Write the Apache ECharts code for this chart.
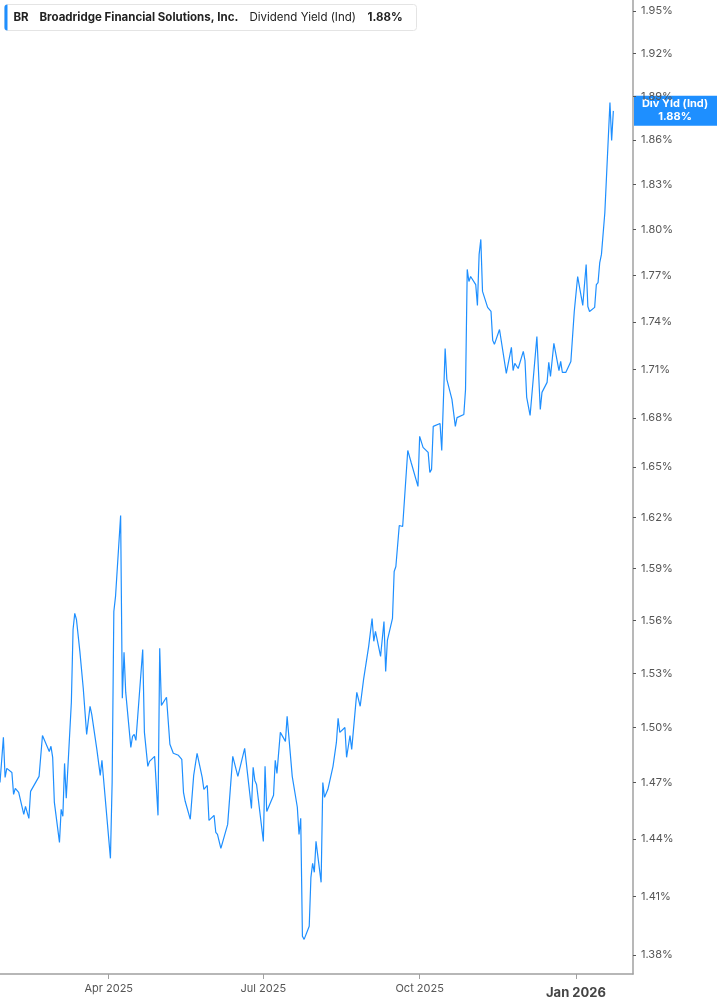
<!DOCTYPE html>
<html>
<head>
<meta charset="utf-8">
<script src="https://cdn.jsdelivr.net/npm/echarts@6/dist/echarts.min.js"></script>
<style>
html,body{margin:0;padding:0;background:#fff;}
#chart{width:717px;height:1005px;}
</style>
</head>
<body>
<div id="chart"></div>
<script>
const dates = [
'2025-01-27','2025-01-29','2025-01-30','2025-01-31','2025-02-03','2025-02-04','2025-02-05','2025-02-07','2025-02-10','2025-02-11',
'2025-02-13','2025-02-14','2025-02-19','2025-02-21','2025-02-25','2025-02-26','2025-02-27','2025-02-28','2025-03-03','2025-03-04',
'2025-03-05','2025-03-06','2025-03-07','2025-03-10','2025-03-11','2025-03-12','2025-03-13','2025-03-15','2025-03-17','2025-03-18',
'2025-03-19','2025-03-21','2025-03-22','2025-03-25','2025-03-27','2025-03-28','2025-04-02','2025-04-03','2025-04-04','2025-04-05',
'2025-04-08','2025-04-09','2025-04-10','2025-04-11','2025-04-14','2025-04-15','2025-04-16','2025-04-17','2025-04-21','2025-04-22',
'2025-04-24','2025-04-25','2025-04-28','2025-04-30','2025-05-01','2025-05-02','2025-05-05','2025-05-07','2025-05-08','2025-05-09',
'2025-05-12','2025-05-14','2025-05-15','2025-05-16','2025-05-19','2025-05-20','2025-05-21','2025-05-23','2025-05-26','2025-05-27',
'2025-05-29','2025-05-30','2025-06-02','2025-06-03','2025-06-04','2025-06-06','2025-06-10','2025-06-13','2025-06-16','2025-06-20',
'2025-06-24','2025-06-25','2025-06-26','2025-06-27','2025-07-01','2025-07-02','2025-07-03','2025-07-07','2025-07-08','2025-07-09',
'2025-07-10','2025-07-11','2025-07-14','2025-07-15','2025-07-18','2025-07-21','2025-07-22','2025-07-23','2025-07-24','2025-07-25',
'2025-07-28','2025-07-29','2025-07-30','2025-07-31','2025-08-01','2025-08-04','2025-08-05','2025-08-06','2025-08-08','2025-08-11',
'2025-08-13','2025-08-14','2025-08-15','2025-08-18','2025-08-19','2025-08-21','2025-08-22','2025-08-25','2025-08-27','2025-08-29',
'2025-09-01','2025-09-03','2025-09-04','2025-09-05','2025-09-08','2025-09-10','2025-09-11','2025-09-12','2025-09-15','2025-09-16',
'2025-09-17','2025-09-19','2025-09-21','2025-09-24','2025-09-26','2025-09-30','2025-10-01','2025-10-03','2025-10-06','2025-10-07',
'2025-10-08','2025-10-09','2025-10-13','2025-10-14','2025-10-16','2025-10-17','2025-10-20','2025-10-22','2025-10-23','2025-10-27',
'2025-10-28','2025-10-29','2025-10-30','2025-10-31','2025-11-03','2025-11-04','2025-11-05','2025-11-06','2025-11-07','2025-11-10',
'2025-11-11','2025-11-12','2025-11-13','2025-11-14','2025-11-17','2025-11-18','2025-11-21','2025-11-24','2025-11-25','2025-11-26',
'2025-11-28','2025-12-01','2025-12-02','2025-12-03','2025-12-05','2025-12-09','2025-12-11','2025-12-12','2025-12-15','2025-12-16',
'2025-12-17','2025-12-19','2025-12-22','2025-12-23','2025-12-24','2025-12-26','2025-12-29','2025-12-31','2026-01-02','2026-01-05',
'2026-01-07','2026-01-08','2026-01-09','2026-01-12','2026-01-13','2026-01-14','2026-01-15','2026-01-16','2026-01-18','2026-01-21',
'2026-01-22','2026-01-23'
];
const yieldValues = [
1.470,1.4945,1.4727,1.4776,1.4754,1.4636,1.4668,1.4647,1.4529,1.4572,
1.4508,1.4652,1.4733,1.4955,1.4868,1.4896,1.4836,1.4593,1.4381,1.4556,
1.4519,1.4803,1.4615,1.5138,1.5547,1.5639,1.5604,1.5423,1.5216,1.5227,
1.4961,1.5116,1.5071,1.4879,1.4738,1.4820,1.4297,1.4700,1.5650,1.5737,
1.6210,1.5160,1.5418,1.5193,1.4890,1.4950,1.4961,1.4928,1.5434,1.4972,
1.4787,1.4814,1.4841,1.4524,1.5440,1.5121,1.5166,1.4907,1.4917,1.4858,
1.4847,1.4825,1.4647,1.4599,1.4503,1.4508,1.4738,1.4858,1.4727,1.4663,
1.4684,1.4497,1.4524,1.4434,1.4423,1.4349,1.4476,1.4841,1.4733,1.4885,
1.4561,1.4782,1.4711,1.4689,1.4386,1.4787,1.4545,1.4631,1.4820,1.4749,
1.4754,1.4972,1.4923,1.5060,1.4733,1.4567,1.4423,1.4508,1.3895,1.3879,
1.3946,1.4198,1.4271,1.4224,1.4386,1.4172,1.4700,1.4620,1.4663,1.4787,
1.4917,1.5049,1.4972,1.4999,1.4836,1.4955,1.4879,1.5193,1.5116,1.5266,
1.5451,1.5610,1.5480,1.5536,1.5395,1.5593,1.5310,1.5485,1.5610,1.5881,
1.5910,1.6151,1.6145,1.6601,1.6528,1.6384,1.6687,1.6620,1.6589,1.6468,
1.6486,1.6748,1.6766,1.6601,1.7233,1.7039,1.6914,1.6748,1.6802,1.6821,
1.6976,1.7739,1.7661,1.7693,1.7641,1.7507,1.7837,1.7935,1.7597,1.7494,
1.7500,1.7468,1.7284,1.7259,1.7353,1.7341,1.7076,1.7240,1.7094,1.7139,
1.7107,1.7214,1.7157,1.6927,1.6815,1.7309,1.6852,1.6958,1.7020,1.7145,
1.7057,1.7265,1.7094,1.7151,1.7082,1.7082,1.7151,1.7468,1.7693,1.7507,
1.7771,1.7500,1.7468,1.7494,1.7641,1.7654,1.7784,1.7837,1.8113,1.8857,
1.8597,1.8800
];
const yTicks = [1.38,1.41,1.44,1.47,1.50,1.53,1.56,1.59,1.62,1.65,1.68,1.71,1.74,1.77,1.80,1.83,1.86,1.89,1.92,1.95];
const xTicks = ['2025-04-01','2025-07-01','2025-10-01','2026-01-01'];
const monthNames = ['Jan','Feb','Mar','Apr','May','Jun','Jul','Aug','Sep','Oct','Nov','Dec'];
const yMin = 1.3704, yMax = 1.9579;
const xMin = '2025-01-27T00:00:00', xMax = '2026-02-03T13:40:00';
const ticker = 'BR', company = 'Broadridge Financial Solutions, Inc.', metric = 'Dividend Yield (Ind)';
const lastVal = yieldValues[yieldValues.length - 1];

const FONT = 'Inter, Roboto, sans-serif';
const BLUE = '#1e8fff';
const ts = s => new Date(s.length === 10 ? s + 'T00:00:00' : s).getTime();
const chart = echarts.init(document.getElementById('chart'), null, {renderer: 'canvas'});
const logTicks = yTicks.map(v => Math.log(v));
const xTickTs = xTicks.map(ts);

chart.setOption({
  animation: false,
  backgroundColor: '#fff',
  grid: {left: 0, right: 84, top: 0, bottom: 31, containLabel: false},
  xAxis: {
    type: 'value',
    min: ts(xMin), max: ts(xMax),
    scale: true,
    splitLine: {show: false},
    axisLine: {show: true, lineStyle: {color: '#a0a0a0', width: 1.5}},
    axisTick: {show: true, length: 5, lineStyle: {color: '#a0a0a0'}, customValues: xTickTs},
    axisLabel: {
      customValues: xTickTs,
      color: '#555', fontFamily: FONT, fontSize: 11, margin: 9,
      formatter: function (val) {
        const d = new Date(val);
        const s = monthNames[d.getMonth()] + ' ' + d.getFullYear();
        return d.getMonth() === 0 ? '{b|' + s + '}' : s;
      },
      rich: {b: {fontWeight: 'bold', fontSize: 13, color: '#444', fontFamily: FONT, padding: [4, 0, 0, 0]}}
    }
  },
  yAxis: {
    type: 'value',
    position: 'right',
    min: Math.log(yMin), max: Math.log(yMax),
    scale: true,
    splitLine: {show: false},
    axisLine: {show: true, lineStyle: {color: '#a0a0a0', width: 1.5}},
    axisTick: {show: true, length: 3, lineStyle: {color: '#555'}, customValues: logTicks},
    axisLabel: {
      customValues: logTicks,
      color: '#555', fontFamily: FONT, fontSize: 11, margin: 8,
      formatter: v => Math.exp(v).toFixed(2) + '%'
    }
  },
  series: [{
    type: 'line',
    showSymbol: false,
    smooth: false,
    lineStyle: {color: BLUE, width: 1.2},
    data: dates.map((d, i) => [ts(d), Math.log(yieldValues[i])])
  }]
});

const yPix = chart.convertToPixel({yAxisIndex: 0}, Math.log(lastVal));
chart.setOption({
  graphic: [
    {type: 'group', left: 4, top: 4, z: 100, children: [
      {type: 'rect', shape: {x: 0, y: 0, width: 412, height: 26, r: 3}, style: {fill: '#fff', stroke: '#e4e4e4', lineWidth: 1}},
      {type: 'rect', shape: {x: 0, y: 0, width: 3, height: 26, r: [3, 0, 0, 3]}, style: {fill: BLUE}},
      {type: 'text', x: 9, y: 13, style: {text: ticker, fontFamily: FONT, fontSize: 11.5, fontWeight: 'bold', fill: '#222', verticalAlign: 'middle'}},
      {type: 'text', x: 35, y: 13, style: {text: company, fontFamily: FONT, fontSize: 11.5, fontWeight: 'bold', fill: '#222', verticalAlign: 'middle'}},
      {type: 'text', x: 245, y: 13, style: {text: metric, fontFamily: FONT, fontSize: 11.5, fill: '#222', verticalAlign: 'middle'}},
      {type: 'text', x: 363, y: 13, style: {text: lastVal.toFixed(2) + '%', fontFamily: FONT, fontSize: 11.5, fontWeight: 'bold', fill: '#222', verticalAlign: 'middle'}}
    ]},
    {type: 'group', x: 634, y: yPix, z: 100, children: [
      {type: 'rect', shape: {x: 0, y: -15, width: 83, height: 30}, style: {fill: BLUE}},
      {type: 'text', x: 41, y: -7, style: {text: 'Div Yld (Ind)', fontFamily: FONT, fontSize: 11, fontWeight: 'bold', fill: '#fff', align: 'center', verticalAlign: 'middle'}},
      {type: 'text', x: 41, y: 6, style: {text: lastVal.toFixed(2) + '%', fontFamily: FONT, fontSize: 11, fontWeight: 'bold', fill: '#fff', align: 'center', verticalAlign: 'middle'}}
    ]}
  ]
});
</script>
</body>
</html>
